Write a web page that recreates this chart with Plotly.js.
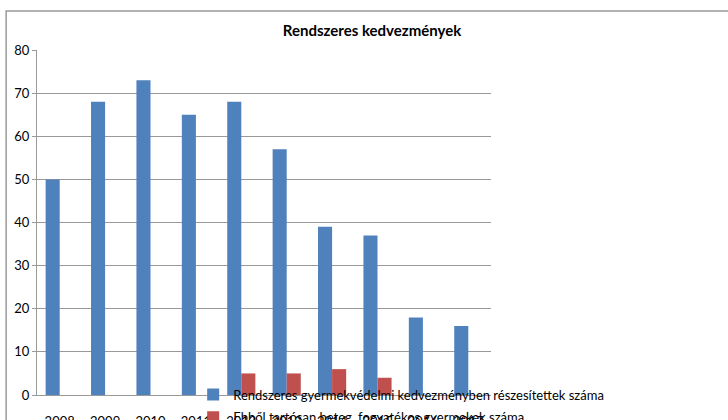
<!DOCTYPE html>
<html>
<head>
<meta charset="utf-8">
<script src="https://cdn.plot.ly/plotly-3.0.1.min.js"></script>
<style>
  body { margin: 0; background: #fff; }
  #chart { width: 728px; height: 420px; }
</style>
</head>
<body>
<div id="chart"></div>
<script>
// Rendszeres kedvezmenyek
var years = ['2008', '2009', '2010', '2011', '2012', '2013', '2014', '2015', '2016', '2017'];
var rendszeres = [50, 68, 73, 65, 68, 57, 39, 37, 18, 16];
var tartosBeteg = [null, null, null, null, 5, 5, 6, 4, null, null];
var yTicks = [0, 10, 20, 30, 40, 50, 60, 70, 80];

var trace1 = {
  x: years,
  y: rendszeres,
  type: 'bar',
  name: 'Rendszeres gyermekvédelmi kedvezményben részesítettek száma',
  legendgroup: 'a',
  marker: {
    color: '#4F81BD'
  }
};

var trace2 = {
  x: years,
  y: tartosBeteg,
  type: 'bar',
  name: 'Ebből tartósan beteg, fogyatékos gyermekek száma',
  legendgroup: 'b',
  marker: {
    color: '#C0504D'
  }
};

var layout = {
  width: 728,
  height: 420,
  margin: {l: 37, r: 237, t: 50, b: 25, autoexpand: false},
  paper_bgcolor: '#fff',
  plot_bgcolor: '#fff',
  font: {family: 'Lato, sans-serif', size: 13, color: '#000'},
  title: {
    text: '<b>Rendszeres kedvezmények</b>',
    font: {size: 15, color: '#000'},
    xref: 'container',
    x: 0.511,
    xanchor: 'center',
    yref: 'container',
    y: 0.926,
    yanchor: 'middle'
  },
  barmode: 'group',
  bargap: 0.38,
  bargroupgap: 0,
  showlegend: true,
  legend: {
    x: 0.344,
    xanchor: 'left',
    y: 0.045,
    yanchor: 'top',
    bgcolor: 'rgba(0,0,0,0)',
    font: {size: 13, color: '#000'},
    itemwidth: 30,
    tracegroupgap: 3,
    traceorder: 'grouped'
  },
  xaxis: {
    type: 'category',
    showline: true,
    linecolor: '#999',
    linewidth: 1,
    ticks: '',
    ticklabelstandoff: 14,
    showgrid: false,
    fixedrange: true
  },
  yaxis: {
    range: [0, 80],
    tickvals: yTicks,
    showline: true,
    linecolor: '#999',
    linewidth: 1,
    ticks: 'outside',
    ticklen: 4,
    tickcolor: '#999',
    showgrid: true,
    gridcolor: '#999',
    gridwidth: 1,
    zeroline: false,
    fixedrange: true
  },
  shapes: [{
    type: 'rect',
    xref: 'paper',
    yref: 'paper',
    x0: -0.068,
    x1: 1.7,
    y0: 1.113,
    y1: -0.3,
    line: {color: '#999', width: 1.5},
    layer: 'below'
  }]
};

Plotly.newPlot('chart', [trace1, trace2], layout, {displayModeBar: false});
</script>
</body>
</html>
